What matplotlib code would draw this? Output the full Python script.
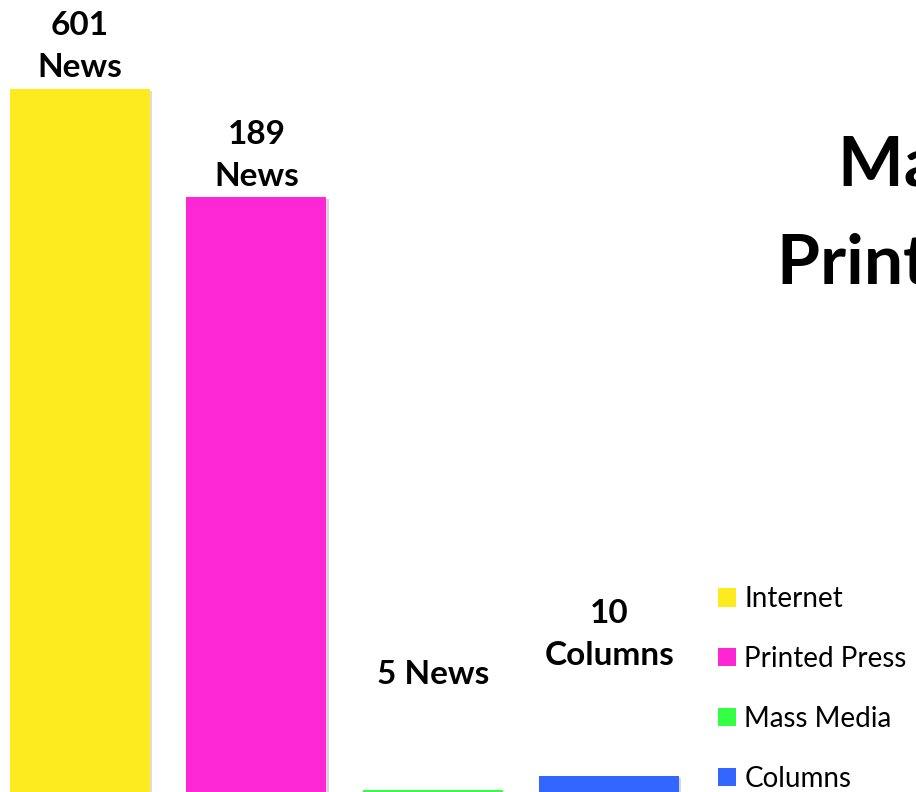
import matplotlib
matplotlib.use('Agg')
import matplotlib.pyplot as plt
import matplotlib.patheffects as pe
from matplotlib.patches import Patch

# data (bar heights in chart units, axis bottom = 0)
categories = ['Internet', 'Printed Press', 'Mass Media', 'Columns']
bar_heights = [703, 595, 2, 16]
bar_labels = ['601\nNews', '189\nNews', '5 News', '10\nColumns']
colors = ['#FDEB1F', '#FD27D6', '#33FF44', '#3366FF']
title_lines = ['Mass Media', 'Printed Press']

plt.rcParams['font.family'] = ['Lato', 'DejaVu Sans']

fig = plt.figure(figsize=(9.16, 7.92), dpi=100)
ax = fig.add_axes([0, 0, 1, 1])

x = range(len(categories))
bars = ax.bar(x, bar_heights, width=0.793, color=colors, zorder=2)
for b in bars:
    b.set_path_effects([pe.SimplePatchShadow(offset=(1.5, -1.5), alpha=0.18), pe.Normal()])

# label offsets above bar tops (points), small bars get a bigger gap
label_offsets = [5, 4, 73, 76]
for i, b in enumerate(bars):
    ax.annotate(bar_labels[i], (b.get_x() + b.get_width() / 2, b.get_height()),
                xytext=(0, label_offsets[i]), textcoords='offset points',
                ha='center', va='bottom', fontsize=24, fontweight='bold',
                linespacing=1.55)

ax.set_xlim(-0.453, 4.737)
ax.set_ylim(0, 792)
ax.axis('off')

# title, clipped by the right edge of the figure (as in the original)
fig.text(838 / 916, 1 - 185 / 792, title_lines[0], ha='left', va='baseline',
         fontsize=50, fontweight='bold')
fig.text(777 / 916, 1 - 284 / 792, title_lines[1], ha='left', va='baseline',
         fontsize=50, fontweight='bold')

handles = [Patch(facecolor=c, edgecolor='none') for c in colors]
ax.legend(handles, categories, loc='upper left', bbox_to_anchor=(718 / 916, 1 - 586 / 792),
          bbox_transform=fig.transFigure, frameon=False, fontsize=20,
          handlelength=0.65, handleheight=0.65, handletextpad=0.3,
          labelspacing=1.22, borderpad=0, borderaxespad=0)

fig.savefig('out.png', dpi=100)
